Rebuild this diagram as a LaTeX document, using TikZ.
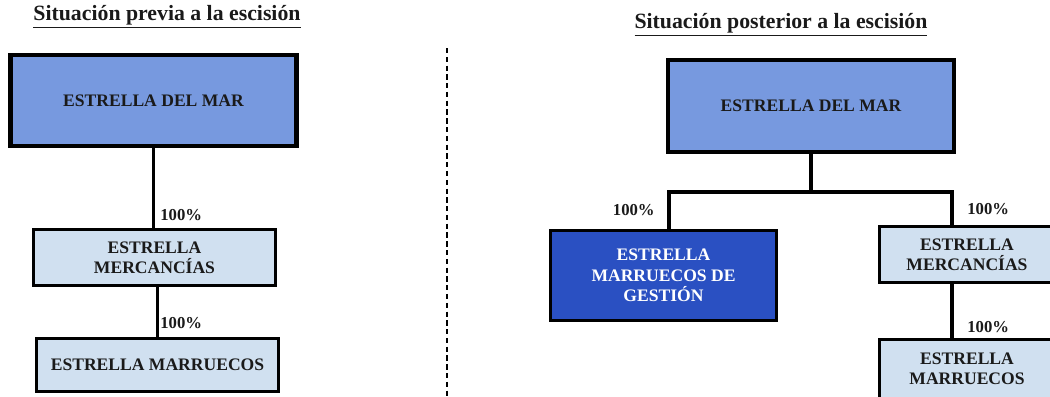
\documentclass[tikz,border=0pt]{standalone}
\usepackage{fontspec}
\setmainfont{Liberation Serif}
\usetikzlibrary{positioning, calc}

\definecolor{marblue}{HTML}{7799DF}
\definecolor{gestblue}{HTML}{2A50C2}
\definecolor{paleblue}{HTML}{D0E0F0}
\definecolor{boxtext}{HTML}{1A1A1A}

\begin{document}
\begin{tikzpicture}[x=0.02cm, y=-0.02cm, line join=miter,
  every node/.style = {shape=rectangle, align=center, inner sep=0pt, text=boxtext,
    font=\fontsize{10}{11.6}\selectfont\bfseries},
  parent/.style = {draw, line width=2.5pt, fill=marblue, minimum width=5.72cm, minimum height=1.82cm},
  filial/.style = {draw, line width=1.7pt, fill=paleblue, minimum width=4.84cm, minimum height=1.12cm},
  newco/.style = {filial, fill=gestblue, text=white},
  share/.style = {font=\fontsize{9.5}{11}\selectfont\bfseries},
  heading/.style = {font=\fontsize{12.4}{14}\selectfont\bfseries},
  link/.style = {draw, line width=1.8pt}]
  \clip (0,0) rectangle (1050,396);

  % antes de la escision
  \node[heading] (titleprev) at (167,17) {\underline{Situación previa a la escisión}};
  \node[parent] (lmar) at (153.5,100.5) {ESTRELLA DEL MAR};
  \node[filial] (lmerc) at (154.5,257.5) {ESTRELLA\\MERCANCÍAS};
  \node[filial, minimum height=1.06cm] (lmarr) at (157.5,365) {ESTRELLA MARRUECOS};
  \path[link] (lmar.south) -- (lmar.south |- lmerc.north);
  \path[link] ([xshift=1.5]lmerc.south) -- ([xshift=1.5]lmerc.south |- lmarr.north);
  \node[share, anchor=west] (lshare1) at (160,215) {100\%};
  \node[share, anchor=west] (lshare2) at (160,323) {100\%};

  % separador
  \coordinate (sepTop) at (447,48);
  \coordinate (sepBot) at (447,400);
  \draw[line width=0.8pt, dash pattern=on 3pt off 2pt] (sepTop) -- (sepBot);

  % despues de la escision
  \node[heading] (titlepost) at (781,25) {\underline{Situación posterior a la escisión}};
  \node[parent, minimum width=5.71cm, minimum height=1.83cm] (rmar) at (811,106) {ESTRELLA DEL MAR};
  \node[newco, minimum width=4.52cm, minimum height=1.8cm] (rgest) at (663.5,275.5) {ESTRELLA\\MARRUECOS DE\\GESTIÓN};
  \node[filial, minimum width=3.5cm] (rmerc) at (967,254.5) {ESTRELLA\\MERCANCÍAS};
  \node[filial, minimum width=3.5cm, minimum height=1.18cm] (rmarr) at (967,369) {ESTRELLA\\MARRUECOS};
  \coordinate (rjoin) at (810,192);
  \coordinate (lbranch) at (669,192);
  \coordinate (rbranch) at (952,192);
  \path[link] (rmar.south) -- (rmar.south |- rjoin);
  \path[link] (lbranch |- rgest.north) -- (lbranch) -- (rbranch) -- (rbranch |- rmerc.north);
  \path[link] (rbranch |- rmerc.south) -- (rbranch |- rmarr.north);
  \node[share, anchor=east] (rshare1) at (655,210) {100\%};
  \node[share, anchor=west] (rshare2) at (967,209) {100\%};
  \node[share, anchor=west] (rshare3) at (967,327) {100\%};
\end{tikzpicture}
\end{document}
